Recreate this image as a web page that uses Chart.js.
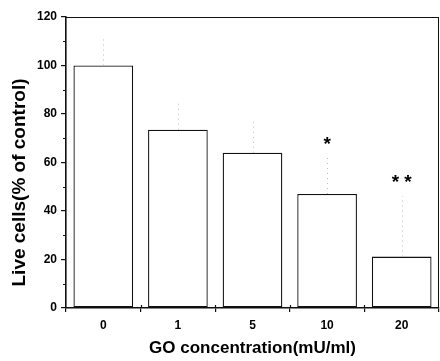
<!DOCTYPE html>
<html>
<head>
<meta charset="utf-8">
<script src="https://cdn.jsdelivr.net/npm/chart.js@4"></script>
<style>
  html, body { margin: 0; padding: 0; background: #fff; }
  #wrap { width: 440px; height: 361px; }
</style>
</head>
<body>
<div id="wrap"><canvas id="myChart"></canvas></div>
<script>
const concentrations = ['0', '1', '5', '10', '20'];
const liveCells = [100, 73.5, 64, 47, 21.2];
const errUp = [12, 12, 13, 15, 25];
const marks = ['', '', '', '*', '* *'];
const yTicks = [0, 20, 40, 60, 80, 100, 120];
const yTitle = 'Live cells(% of control)';

const ctx = document.getElementById('myChart');
const fontFam = '"Liberation Sans", Arial, sans-serif';

// frame, minor ticks, dotted error bars, stars, y title (sits a bit low in the original)
const extras = {
  id: 'extras',
  afterDatasetsDraw(chart) {
    const c = chart.ctx;
    const a = chart.chartArea;
    const x = chart.scales.x;
    const y = chart.scales.y;
    c.save();
    // top + right border
    c.strokeStyle = '#111';
    c.lineWidth = 1;
    c.beginPath();
    c.moveTo(a.left, a.top + 0.5);
    c.lineTo(a.right, a.top + 0.5);
    c.moveTo(a.right - 0.5, a.top);
    c.lineTo(a.right - 0.5, a.bottom);
    c.stroke();
    // minor ticks on y
    c.lineWidth = 1.2;
    c.beginPath();
    for (let v = 10; v < 120; v += 20) {
      const py = Math.round(y.getPixelForValue(v)) + 0.5;
      c.moveTo(a.left - 3, py);
      c.lineTo(a.left, py);
    }
    // x ticks crossing the axis (small part inside)
    for (let i = 1; i < concentrations.length; i++) {
      const px = Math.round((x.getPixelForValue(i - 1) + x.getPixelForValue(i)) / 2) + 0.5;
      c.moveTo(px, a.bottom - 3);
      c.lineTo(px, a.bottom);
    }
    c.stroke();
    // faint dotted error bars
    c.strokeStyle = '#bbb';
    c.lineWidth = 1;
    c.setLineDash([1, 4]);
    c.beginPath();
    liveCells.forEach((v, i) => {
      const px = Math.round(x.getPixelForValue(i)) + 0.5;
      c.moveTo(px, y.getPixelForValue(v));
      c.lineTo(px, y.getPixelForValue(v + errUp[i]));
    });
    c.stroke();
    c.setLineDash([]);
    // significance stars
    c.fillStyle = '#000';
    c.font = 'bold 19px ' + fontFam;
    c.textAlign = 'center';
    c.textBaseline = 'middle';
    marks.forEach((m, i) => {
      if (!m) return;
      c.fillText(m, x.getPixelForValue(i), y.getPixelForValue(liveCells[i] + errUp[i]) - 13);
    });
    // y title
    c.translate(20, (a.top + a.bottom) / 2 + 20);
    c.rotate(-Math.PI / 2);
    c.fillText(yTitle, 0, 0);
    c.restore();
  }
};

new Chart(ctx, {
  type: 'bar',
  data: {
    labels: concentrations,
    datasets: [{
      data: liveCells,
      backgroundColor: '#fff',
      borderColor: '#111',
      borderWidth: 1.3,
      borderSkipped: false,
      categoryPercentage: 0.8,
      barPercentage: 1
    }]
  },
  options: {
    responsive: true,
    maintainAspectRatio: false,
    animation: false,
    layout: { padding: { top: 17, right: 1, left: 0, bottom: 0 } },
    scales: {
      x: {
        afterFit(scale) { scale.height = 53; },
        border: { color: '#111', width: 1.6 },
        grid: { drawOnChartArea: false, tickLength: 4, color: '#111', lineWidth: 1.2 },
        ticks: { color: '#000', padding: 6, font: { family: fontFam, size: 12, weight: 'bold' } },
        title: {
          display: true,
          text: 'GO concentration(mU/ml)',
          color: '#000',
          padding: { top: 0, bottom: 2 },
          font: { family: fontFam, size: 17, weight: 'bold' }
        }
      },
      y: {
        min: 0,
        max: 120,
        afterFit(scale) { scale.width = 66; },
        afterBuildTicks(scale) { scale.ticks = yTicks.map(v => ({ value: v })); },
        border: { color: '#111', width: 1.6 },
        grid: { drawOnChartArea: false, tickLength: 5, color: '#111', lineWidth: 1.2 },
        ticks: { color: '#000', padding: 4, font: { family: fontFam, size: 12, weight: 'bold' } }
      }
    },
    plugins: {
      legend: { display: false },
      tooltip: { enabled: false }
    }
  },
  plugins: [extras]
});
</script>
</body>
</html>
